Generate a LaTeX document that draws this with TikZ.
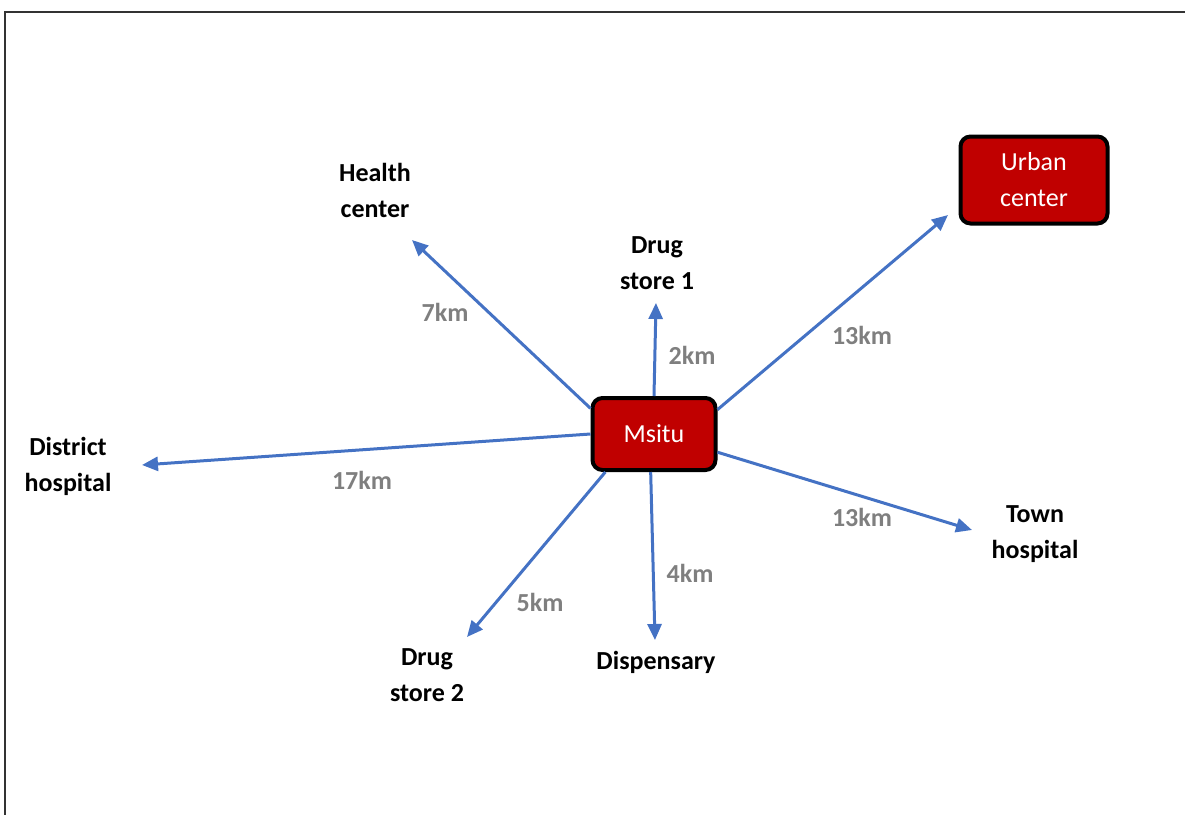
\documentclass[tikz,border=0pt]{standalone}
\usepackage{fontspec}
\setmainfont{Carlito}
\usetikzlibrary{arrows.meta,positioning}
\definecolor{link}{HTML}{4472C4}
\definecolor{boxred}{HTML}{C00000}
\definecolor{dist}{HTML}{7F7F7F}

\begin{document}
\begin{tikzpicture}[x=0.5pt,y=-0.5pt,
  place/.style={align=center,font=\fontsize{13}{18}\selectfont\bfseries},
  km/.style={text=dist,font=\fontsize{13}{18}\selectfont\bfseries},
  hub/.style={draw=black,line width=2pt,rounded corners=5pt,fill=boxred,text=white,align=center,font=\fontsize{13}{18}\selectfont},
  road/.style={draw=link,line width=1.5pt,-{Triangle[length=8pt,width=7pt]}}]
\useasboundingbox (0,0) rectangle (1185,815);
\draw[black!80,line width=1.2pt] (5,815) -- (5,12) -- (1185,12);
% boxes
\node[hub,minimum width=61.5pt,minimum height=36pt] (msitu) at (654,434) {Msitu};
\node[hub,minimum width=73.5pt,minimum height=43.5pt] (urban) at (1034,180) {Urban\\center};
% places
\node[place] (health) at (375,190) {Health\\center};
\node[place] (store1) at (657,263) {Drug\\store 1};
\node[place] (district) at (68,466) {District\\hospital};
\node[place] (town) at (1035,534) {Town\\hospital};
\node[place] (store2) at (427,675) {Drug\\store 2};
\node[place] (disp) at (656,662) {Dispensary};
% arrow tips
\coordinate (tipHealth) at (412,240);
\coordinate (tipStore1) at (656,303);
\coordinate (tipUrban) at (948,215);
\coordinate (tipDistrict) at (142,465);
\coordinate (tipTown) at (972,530);
\coordinate (tipStore2) at (467,637);
\coordinate (tipDisp) at (655,640);
\draw[road] (msitu.158) -- (tipHealth);
\draw[road] (msitu.90) -- (tipStore1);
\draw[road] (msitu.21) -- (tipUrban);
\draw[road] (msitu.180) -- (tipDistrict);
\draw[road] (msitu.344) -- (tipTown);
\draw[road] (msitu.218) -- (tipStore2);
\draw[road] (msitu.265) -- (tipDisp);
% distances
\node[km] (dHealth) at (445,312) {7km};
\node[km] (dStore1) at (692,355) {2km};
\node[km] (dUrban) at (862,335) {13km};
\node[km] (dDistrict) at (362,480) {17km};
\node[km] (dTown) at (862,517) {13km};
\node[km] (dDisp) at (690,573) {4km};
\node[km] (dStore2) at (540,602) {5km};
\end{tikzpicture}
\end{document}
